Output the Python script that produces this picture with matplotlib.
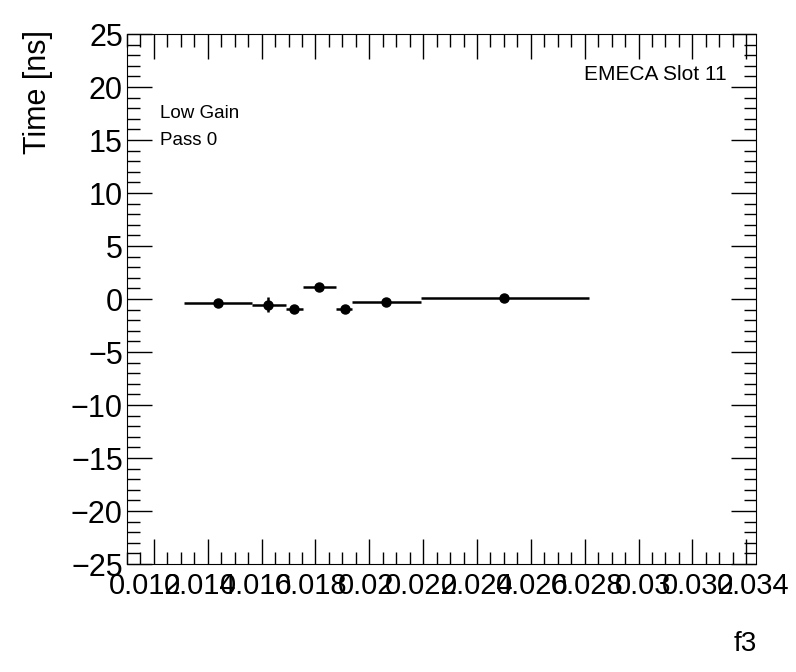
import matplotlib
matplotlib.use('Agg')
import matplotlib.pyplot as plt
import matplotlib.transforms as mtransforms
import numpy as np
from matplotlib.ticker import MultipleLocator

plt.rcParams['font.family'] = ['Liberation Sans', 'DejaVu Sans']

# bin edges (x) and points
bin_lo = [0.01313, 0.01565, 0.01689, 0.01752, 0.01878, 0.01937, 0.02191]
bin_hi = [0.01565, 0.01689, 0.01752, 0.01878, 0.01937, 0.02191, 0.02816]
x_pts = [0.01439, 0.01625, 0.01720, 0.01814, 0.01909, 0.02062, 0.02501]
y_pts = [-0.41, -0.53, -0.97, 1.13, -0.91, -0.28, 0.12]
y_err = [0.15, 0.68, 0.25, 0.2, 0.25, 0.4, 0.15]

x_ticks = np.arange(0.012, 0.0341, 0.002)
x_labels = ['0.012', '0.014', '0.016', '0.018', '0.02', '0.022',
            '0.024', '0.026', '0.028', '0.03', '0.032', '0.034']
y_ticks = np.arange(-25, 26, 5)
y_labels = ['\u221225', '\u221220', '\u221215', '\u221210', '\u22125', '0',
            '5', '10', '15', '20', '25']

x_lo_err = np.array(x_pts) - np.array(bin_lo)
x_hi_err = np.array(bin_hi) - np.array(x_pts)

fig = plt.figure(figsize=(7.96, 6.72), dpi=100)
ax = fig.add_axes([0.1595, 0.1607, 0.7902, 0.7887])

ax.errorbar(x_pts, y_pts, xerr=[x_lo_err, x_hi_err], yerr=y_err,
            fmt='o', color='black', ms=6.5, elinewidth=1.8, capsize=0)

ax.set_xlim(0.011, 0.03436)
ax.set_ylim(-25, 25)

ax.xaxis.set_minor_locator(MultipleLocator(0.0005))
ax.yaxis.set_minor_locator(MultipleLocator(1))
ax.set_xticks(x_ticks)
ax.set_xticklabels(x_labels, family=['Liberation Sans Narrow', 'Liberation Sans'], fontsize=21)
ax.set_yticks(y_ticks)
ax.set_yticklabels(y_labels, family=['Liberation Sans Narrow', 'Liberation Sans'], fontsize=22)

ax.tick_params(which='both', direction='in', top=True, right=True, width=1)
ax.tick_params(which='major', length=18)
ax.tick_params(axis='x', which='major', pad=6)
ax.tick_params(axis='y', which='major', pad=3)
ax.tick_params(which='minor', length=9)

# ROOT spreads the x labels a bit wider than the ticks
for k, lab in enumerate(ax.get_xticklabels()):
    dx = (-8.8 + 1.45 * k) / 100.0
    lab.set_transform(lab.get_transform() +
                      mtransforms.ScaledTranslation(dx, 0, fig.dpi_scale_trans))

ax.set_ylabel('Time [ns]', fontsize=22, loc='top')
ax.yaxis.set_label_coords(-0.117, 1.008)
fig.text(0.951, 0.031, 'f3', fontsize=20, ha='right', va='baseline')

ax.text(0.9534, 0.913, 'EMECA Slot 11', transform=ax.transAxes, fontsize=15,
        ha='right', va='baseline')
ax.text(0.0525, 0.841, 'Low Gain', transform=ax.transAxes, fontsize=13.5,
        ha='left', va='baseline')
ax.text(0.0525, 0.7906, 'Pass 0', transform=ax.transAxes, fontsize=13.5,
        ha='left', va='baseline')

fig.savefig('out.png', dpi=100)
